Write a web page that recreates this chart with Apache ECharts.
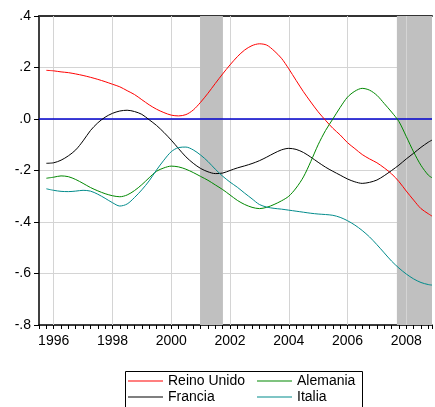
<!DOCTYPE html>
<html>
<head>
<meta charset="utf-8">
<script src="https://cdn.jsdelivr.net/npm/echarts@6/dist/echarts.min.js"></script>
<style>html,body{margin:0;padding:0;background:#fff;}#c{width:435px;height:407px;}</style>
</head>
<body>
<div id="c"></div>
<script>
// Time (decimal years, quarterly)
const years = [1995.75,1996,1996.25,1996.5,1996.75,1997,1997.25,1997.5,1997.75,1998,1998.25,1998.5,1998.75,1999,1999.25,1999.5,1999.75,2000,2000.25,2000.5,2000.75,2001,2001.25,2001.5,2001.75,2002,2002.25,2002.5,2002.75,2003,2003.25,2003.5,2003.75,2004,2004.25,2004.5,2004.75,2005,2005.25,2005.5,2005.75,2006,2006.25,2006.5,2006.75,2007,2007.25,2007.5,2007.75,2008,2008.25,2008.5,2008.75,2008.875];
const reinoUnido = [0.189,0.187,0.183,0.180,0.175,0.169,0.162,0.154,0.145,0.135,0.125,0.110,0.095,0.075,0.055,0.038,0.025,0.015,0.012,0.017,0.035,0.065,0.100,0.138,0.175,0.210,0.242,0.268,0.285,0.292,0.287,0.265,0.236,0.195,0.150,0.106,0.066,0.028,-0.005,-0.036,-0.062,-0.092,-0.115,-0.138,-0.155,-0.170,-0.190,-0.213,-0.243,-0.280,-0.315,-0.348,-0.368,-0.377];
const francia = [-0.172,-0.170,-0.160,-0.143,-0.120,-0.085,-0.045,-0.015,0.007,0.022,0.031,0.034,0.029,0.018,-0.003,-0.025,-0.052,-0.082,-0.115,-0.147,-0.172,-0.192,-0.205,-0.212,-0.210,-0.200,-0.190,-0.182,-0.173,-0.162,-0.148,-0.133,-0.120,-0.114,-0.118,-0.130,-0.148,-0.168,-0.187,-0.203,-0.218,-0.233,-0.244,-0.250,-0.246,-0.237,-0.220,-0.200,-0.179,-0.155,-0.133,-0.110,-0.090,-0.082];
const alemania = [-0.230,-0.226,-0.221,-0.224,-0.235,-0.250,-0.266,-0.279,-0.290,-0.298,-0.302,-0.295,-0.278,-0.255,-0.228,-0.203,-0.190,-0.183,-0.186,-0.195,-0.208,-0.223,-0.238,-0.256,-0.274,-0.295,-0.316,-0.332,-0.343,-0.348,-0.343,-0.332,-0.318,-0.300,-0.268,-0.225,-0.165,-0.100,-0.045,0.000,0.045,0.085,0.108,0.119,0.112,0.092,0.060,0.027,-0.010,-0.068,-0.128,-0.180,-0.218,-0.228];
const italia = [-0.271,-0.277,-0.281,-0.282,-0.280,-0.277,-0.280,-0.292,-0.308,-0.325,-0.338,-0.330,-0.305,-0.275,-0.240,-0.198,-0.160,-0.127,-0.111,-0.109,-0.120,-0.140,-0.165,-0.195,-0.222,-0.245,-0.265,-0.288,-0.310,-0.332,-0.342,-0.347,-0.350,-0.354,-0.358,-0.362,-0.366,-0.369,-0.371,-0.374,-0.382,-0.395,-0.412,-0.433,-0.458,-0.488,-0.520,-0.552,-0.579,-0.602,-0.621,-0.635,-0.643,-0.645];
const gridYears = [1996,1998,2000,2002,2004,2006,2008];
const shaded = [[2000.98,2001.76],[2007.68,2008.875]];

const zip = (xs, ys) => xs.map((x,i)=>[x, ys[i]]);
const FONT = '"Liberation Sans", Arial, sans-serif';
const chart = echarts.init(document.getElementById('c'), null, {renderer:'canvas'});

const lineSeries = (name, data, color) => ({
  name, type:'line', data: zip(years, data), smooth:0.3, showSymbol:false, symbol:'none',
  lineStyle:{color, width:1}, itemStyle:{color}, z:5, animation:false
});

chart.setOption({
  animation:false,
  textStyle:{fontFamily:FONT},
  grid:{left:39, top:16, right:0, bottom:82},
  xAxis:[{
    type:'value', min:1995.5, max:2008.875, interval:0.25,
    axisLine:{show:true, onZero:false, lineStyle:{color:'#000', width:1.5}},
    axisTick:{show:true, length:4, lineStyle:{color:'#000'}},
    splitLine:{show:false},
    axisLabel:{fontSize:14, color:'#000', margin:9, fontFamily:FONT,
      formatter:v=>{const r=Math.round(v); return (Math.abs(v-r)<1e-6 && r%2===0)? String(r):'';}}
  },{
    type:'value', position:'top', min:1995.5, max:2008.875,
    axisLine:{show:true, onZero:false, lineStyle:{color:'#333', width:2}},
    axisTick:{show:false}, axisLabel:{show:false}, splitLine:{show:false}
  }],
  yAxis:{
    type:'value', min:-0.8, max:0.4, interval:0.2,
    axisLine:{show:true, onZero:false, lineStyle:{color:'#000', width:1.5}},
    axisTick:{show:true, length:5, lineStyle:{color:'#000'}},
    splitLine:{show:true, lineStyle:{color:'#d4d4d4', width:1}},
    axisLabel:{fontSize:14, color:'#000', margin:8, fontFamily:FONT,
      formatter:v=>{const a=Math.round(Math.abs(v)*10); return (v<-1e-9?'-':'')+'.'+a;}}
  },
  legend:[{
    data:['Reino Unido','Francia'], orient:'vertical', left:128, top:374, padding:0,
    itemWidth:35, itemHeight:14, itemGap:2, icon:'path://M0,7 L35,7 L35,8 L0,8 Z',
    textStyle:{fontSize:14, color:'#000', lineHeight:14, fontFamily:FONT}
  },{
    data:['Alemania','Italia'], orient:'vertical', left:257, top:374, padding:0,
    itemWidth:35, itemHeight:14, itemGap:2, icon:'path://M0,7 L35,7 L35,8 L0,8 Z',
    textStyle:{fontSize:14, color:'#000', lineHeight:14, fontFamily:FONT}
  }],
  graphic:[{type:'rect', left:123, top:369, shape:{width:237, height:60},
    style:{fill:'none', stroke:'#000', lineWidth:1}, silent:true}],
  series:[
    {name:'_bg', type:'line', data:[], silent:true, z:1,
      markArea:{silent:true, itemStyle:{color:'#c0c0c0'},
        data: shaded.map(s=>[{xAxis:s[0]},{xAxis:s[1]}])},
      markLine:{silent:true, symbol:'none', label:{show:false},
        lineStyle:{color:'#d4d4d4', width:1, type:'solid'},
        data: gridYears.map(y=>({xAxis:y}))}},
    {name:'_zero', type:'line', data:[], silent:true, z:3,
      markLine:{silent:true, symbol:'none', label:{show:false},
        lineStyle:{color:'#0000cc', width:1.5, type:'solid'},
        data:[{yAxis:0}]}},
    lineSeries('Reino Unido', reinoUnido, '#ff0000'),
    lineSeries('Francia', francia, '#000000'),
    lineSeries('Alemania', alemania, '#008800'),
    lineSeries('Italia', italia, '#008b8b')
  ]
});
</script>
</body>
</html>
